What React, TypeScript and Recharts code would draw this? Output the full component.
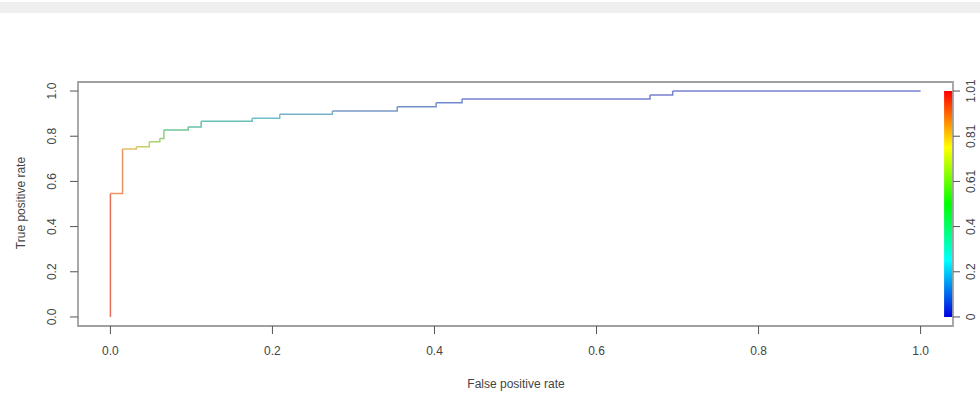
import React from 'react';
import {
  LineChart, Line, XAxis, YAxis, ReferenceArea,
} from 'recharts';

// ROC curve corner points (false positive rate, true positive rate)
const fpr = [0, 0, 0.015, 0.032, 0.048, 0.061, 0.066, 0.096, 0.112, 0.175, 0.209, 0.274, 0.354, 0.402, 0.434, 0.666, 0.694, 1.0];
const tpr = [0, 0.547, 0.743, 0.753, 0.776, 0.79, 0.827, 0.841, 0.866, 0.879, 0.897, 0.912, 0.93, 0.948, 0.965, 0.982, 1.0, 1.0];

// colour of each segment (cutoff colorized, red -> blue)
const segColors = [
  '#e8705a', '#ee9060', '#e2c062', '#c8d062', '#a8d070', '#90d080',
  '#70c898', '#68c0a8', '#68c0b8', '#70c0c8', '#78b0c8', '#7898c8',
  '#7090c8', '#7088d0', '#7880d0', '#7880d0', '#7880d0',
];

const axisTicks = [0, 0.2, 0.4, 0.6, 0.8, 1.0];
const cutoffLabels = ['0', '0.2', '0.4', '0.61', '0.81', '1.01'];

const segments = segColors.map((color, i) => ({
  color,
  data: [
    { x: fpr[i], y: tpr[i] },
    { x: fpr[i + 1], y: tpr[i + 1] },
  ],
}));

const FONT = '"Liberation Sans", Arial, sans-serif';
const TXT = '#444';

const XTick = ({ x, y, payload }: any) => (
  <text x={x} y={y} dy={4} textAnchor="middle" fontSize={12} fill={TXT} fontFamily={FONT}>
    {Number(payload.value).toFixed(1)}
  </text>
);

const YTick = ({ x, y, payload }: any) => (
  <text x={x} y={y} dy={4} textAnchor="middle" fontSize={12} fill={TXT} fontFamily={FONT}
    transform={`rotate(-90, ${x}, ${y})`}>
    {Number(payload.value).toFixed(1)}
  </text>
);

const CutTick = ({ x, y, index }: any) => (
  <text x={x} y={y} dy={4} textAnchor="middle" fontSize={12} fill={TXT} fontFamily={FONT}
    transform={`rotate(-90, ${x}, ${y})`}>
    {cutoffLabels[index]}
  </text>
);

export default function App() {
  return (
    <div style={{ position: 'fixed', left: 0, top: 0, width: 980, height: 398, background: '#fff', overflow: 'hidden' }}>
      {/* toolbar strip from the screenshot */}
      <div style={{ position: 'absolute', left: 0, top: 2, width: 980, height: 11, background: '#efefef' }} />

      <LineChart width={980} height={398} margin={{ top: 82, right: 0, bottom: 0, left: 38 }}>
        <defs>
          <linearGradient id="rainbow" x1="0" y1="0" x2="0" y2="1">
            <stop offset="0%" stopColor="#ff0000" />
            <stop offset="25%" stopColor="#ffff00" />
            <stop offset="50%" stopColor="#00ff00" />
            <stop offset="75%" stopColor="#00ffff" />
            <stop offset="100%" stopColor="#0000e0" />
          </linearGradient>
        </defs>
        <XAxis dataKey="x" type="number" domain={[-0.04, 1.04]} ticks={axisTicks}
          height={72} tickSize={8} tickMargin={17} axisLine={false}
          tickLine={{ stroke: '#555' }} tick={<XTick />} allowDataOverflow />
        <YAxis yAxisId="l" dataKey="y" type="number" domain={[-0.04, 1.04]} ticks={axisTicks}
          width={40} tickSize={8} tickMargin={18} axisLine={false}
          tickLine={{ stroke: '#555' }} tick={<YTick />} allowDataOverflow />
        <YAxis yAxisId="r" orientation="right" type="number" domain={[-0.04, 1.04]} ticks={axisTicks}
          width={27} tickSize={7} tickMargin={11} axisLine={false}
          tickLine={{ stroke: '#555' }} tick={<CutTick />} allowDataOverflow />

        <ReferenceArea yAxisId="l" x1={1.029} x2={1.04} y1={0} y2={1} fill="url(#rainbow)" fillOpacity={1} stroke="none" />
        <ReferenceArea yAxisId="l" x1={-0.04} x2={1.04} y1={-0.04} y2={1.04}
          fill="none" stroke="#a0a0a0" strokeWidth={1.8} />

        {segments.map((s, i) => (
          <Line key={`seg-${i}`} yAxisId="l" data={s.data} dataKey="y" type="stepAfter"
            stroke={s.color} strokeWidth={1.5} dot={false} activeDot={false}
            isAnimationActive={false} />
        ))}
      </LineChart>

      <div style={{ position: 'absolute', left: 416, width: 200, top: 377, textAlign: 'center', fontFamily: FONT, fontSize: 12, color: TXT }}>
        False positive rate
      </div>
      <div style={{ position: 'absolute', left: 21 - 100, width: 200, top: 204 - 8, textAlign: 'center', fontFamily: FONT, fontSize: 12, color: TXT, transform: 'rotate(-90deg)' }}>
        True positive rate
      </div>
    </div>
  );
}
